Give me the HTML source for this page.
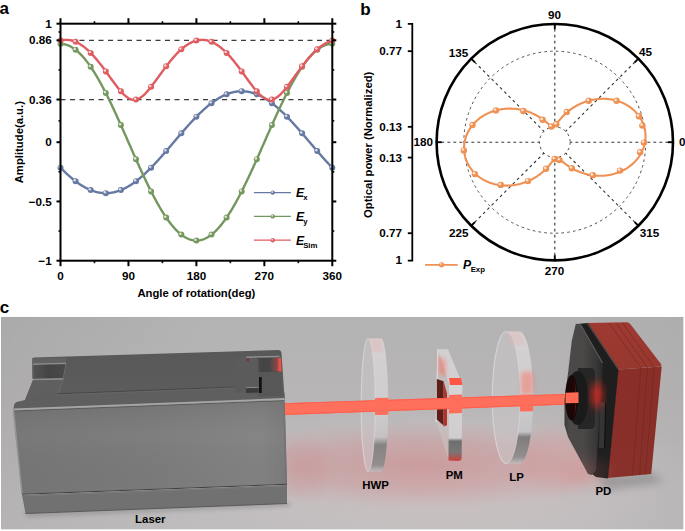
<!DOCTYPE html>
<html><head><meta charset="utf-8"><style>
html,body{margin:0;padding:0;background:#fff;}
svg{display:block;}
text{font-family:"Liberation Sans",sans-serif;}
.tk{font-size:11.7px;font-weight:bold;fill:#000;}
.ax{font-size:11.3px;font-weight:bold;fill:#000;}
.pl{font-size:17px;font-weight:bold;fill:#000;}
.lg{font-size:12.2px;font-style:italic;font-weight:bold;fill:#000;}
.sb{font-size:7.8px;font-style:normal;font-weight:bold;}
.cl{font-size:11.4px;font-weight:bold;fill:#000;}
</style></head><body>
<svg width="685" height="531" viewBox="0 0 685 531">
<defs>
<g id="mkDF5C61"><circle r="3.0" fill="#DF5C61"/><circle cx="-0.9" cy="-0.9" r="1.26" fill="#fff" opacity="0.75"/></g>
<g id="mk74975E"><circle r="3.0" fill="#74975E"/><circle cx="-0.9" cy="-0.9" r="1.26" fill="#fff" opacity="0.75"/></g>
<g id="mk6579A2"><circle r="3.0" fill="#6579A2"/><circle cx="-0.9" cy="-0.9" r="1.26" fill="#fff" opacity="0.75"/></g>
<g id="mkO"><circle r="3.2" fill="#EE9153"/><circle cx="-0.9" cy="-0.9" r="1.34" fill="#fff" opacity="0.75"/></g>
</defs>
<rect width="685" height="531" fill="#fff"/>
<text x="-0.5" y="14" class="pl">a</text>
<text x="360.2" y="14.6" class="pl">b</text>
<text x="-0.3" y="313.2" class="pl">c</text>
<g id="pa">
<line x1="60.5" y1="40.29" x2="332.3" y2="40.29" stroke="#3a3a3a" stroke-width="1.2" stroke-dasharray="5 4.5"/>
<line x1="60.5" y1="99.54" x2="332.3" y2="99.54" stroke="#3a3a3a" stroke-width="1.2" stroke-dasharray="5 4.5"/>
<path d="M60.50,167.68 L61.26,168.44 L62.01,169.20 L62.77,169.95 L63.52,170.69 L64.28,171.43 L65.03,172.15 L65.78,172.87 L66.54,173.57 L67.30,174.27 L68.05,174.95 L68.81,175.63 L69.56,176.30 L70.31,176.95 L71.07,177.60 L71.83,178.23 L72.58,178.85 L73.34,179.47 L74.09,180.07 L74.84,180.66 L75.60,181.23 L76.36,181.80 L77.11,182.35 L77.87,182.89 L78.62,183.42 L79.38,183.94 L80.13,184.44 L80.89,184.93 L81.64,185.41 L82.40,185.88 L83.15,186.33 L83.91,186.77 L84.66,187.19 L85.41,187.60 L86.17,188.00 L86.92,188.38 L87.68,188.75 L88.44,189.10 L89.19,189.44 L89.94,189.77 L90.70,190.08 L91.45,190.38 L92.21,190.66 L92.97,190.93 L93.72,191.18 L94.47,191.42 L95.23,191.64 L95.98,191.85 L96.74,192.04 L97.50,192.22 L98.25,192.38 L99.00,192.53 L99.76,192.66 L100.52,192.78 L101.27,192.88 L102.03,192.96 L102.78,193.03 L103.53,193.09 L104.29,193.12 L105.05,193.15 L105.80,193.15 L106.56,193.15 L107.31,193.12 L108.06,193.09 L108.82,193.03 L109.58,192.96 L110.33,192.88 L111.09,192.78 L111.84,192.66 L112.59,192.53 L113.35,192.38 L114.10,192.22 L114.86,192.04 L115.62,191.85 L116.37,191.64 L117.12,191.42 L117.88,191.18 L118.64,190.93 L119.39,190.66 L120.15,190.38 L120.90,190.08 L121.66,189.77 L122.41,189.44 L123.17,189.10 L123.92,188.75 L124.67,188.38 L125.43,188.00 L126.19,187.60 L126.94,187.19 L127.70,186.77 L128.45,186.33 L129.20,185.88 L129.96,185.41 L130.72,184.93 L131.47,184.44 L132.22,183.94 L132.98,183.42 L133.74,182.89 L134.49,182.35 L135.25,181.80 L136.00,181.23 L136.75,180.66 L137.51,180.07 L138.26,179.47 L139.02,178.85 L139.78,178.23 L140.53,177.60 L141.29,176.95 L142.04,176.30 L142.80,175.63 L143.55,174.95 L144.31,174.27 L145.06,173.57 L145.81,172.87 L146.57,172.15 L147.32,171.43 L148.08,170.69 L148.84,169.95 L149.59,169.20 L150.34,168.44 L151.10,167.68 L151.86,166.90 L152.61,166.12 L153.37,165.33 L154.12,164.54 L154.88,163.73 L155.63,162.93 L156.38,162.11 L157.14,161.29 L157.90,160.46 L158.65,159.63 L159.41,158.79 L160.16,157.95 L160.92,157.10 L161.67,156.25 L162.43,155.39 L163.18,154.53 L163.94,153.66 L164.69,152.79 L165.44,151.92 L166.20,151.05 L166.96,150.17 L167.71,149.29 L168.47,148.41 L169.22,147.53 L169.97,146.64 L170.73,145.75 L171.49,144.87 L172.24,143.98 L173.00,143.09 L173.75,142.20 L174.50,141.31 L175.26,140.42 L176.01,139.53 L176.77,138.65 L177.53,137.76 L178.28,136.87 L179.03,135.99 L179.79,135.11 L180.55,134.23 L181.30,133.35 L182.06,132.48 L182.81,131.61 L183.56,130.74 L184.32,129.87 L185.07,129.01 L185.83,128.15 L186.58,127.30 L187.34,126.45 L188.10,125.61 L188.85,124.77 L189.61,123.94 L190.36,123.11 L191.12,122.29 L191.87,121.47 L192.62,120.67 L193.38,119.86 L194.13,119.07 L194.89,118.28 L195.65,117.50 L196.40,116.72 L197.16,115.96 L197.91,115.20 L198.66,114.45 L199.42,113.71 L200.18,112.97 L200.93,112.25 L201.69,111.53 L202.44,110.83 L203.20,110.13 L203.95,109.45 L204.71,108.77 L205.46,108.10 L206.22,107.45 L206.97,106.80 L207.72,106.17 L208.48,105.55 L209.24,104.93 L209.99,104.33 L210.75,103.74 L211.50,103.17 L212.25,102.60 L213.01,102.05 L213.77,101.51 L214.52,100.98 L215.28,100.46 L216.03,99.96 L216.79,99.47 L217.54,98.99 L218.30,98.52 L219.05,98.07 L219.81,97.63 L220.56,97.21 L221.31,96.80 L222.07,96.40 L222.82,96.02 L223.58,95.65 L224.34,95.30 L225.09,94.96 L225.84,94.63 L226.60,94.32 L227.36,94.02 L228.11,93.74 L228.87,93.47 L229.62,93.22 L230.38,92.98 L231.13,92.76 L231.89,92.55 L232.64,92.36 L233.40,92.18 L234.15,92.02 L234.91,91.87 L235.66,91.74 L236.41,91.62 L237.17,91.52 L237.93,91.44 L238.68,91.37 L239.44,91.31 L240.19,91.28 L240.95,91.25 L241.70,91.24 L242.46,91.25 L243.21,91.28 L243.97,91.31 L244.72,91.37 L245.47,91.44 L246.23,91.52 L246.99,91.62 L247.74,91.74 L248.50,91.87 L249.25,92.02 L250.00,92.18 L250.76,92.36 L251.52,92.55 L252.27,92.76 L253.03,92.98 L253.78,93.22 L254.54,93.47 L255.29,93.74 L256.04,94.02 L256.80,94.32 L257.56,94.63 L258.31,94.96 L259.07,95.30 L259.82,95.65 L260.57,96.02 L261.33,96.40 L262.09,96.80 L262.84,97.21 L263.60,97.63 L264.35,98.07 L265.11,98.52 L265.86,98.99 L266.62,99.47 L267.37,99.96 L268.12,100.46 L268.88,100.98 L269.63,101.51 L270.39,102.05 L271.14,102.60 L271.90,103.17 L272.65,103.74 L273.41,104.33 L274.17,104.93 L274.92,105.55 L275.68,106.17 L276.43,106.80 L277.19,107.45 L277.94,108.10 L278.69,108.77 L279.45,109.45 L280.21,110.13 L280.96,110.83 L281.72,111.53 L282.47,112.25 L283.23,112.97 L283.98,113.71 L284.74,114.45 L285.49,115.20 L286.25,115.96 L287.00,116.72 L287.75,117.50 L288.51,118.28 L289.26,119.07 L290.02,119.86 L290.77,120.67 L291.53,121.47 L292.29,122.29 L293.04,123.11 L293.79,123.94 L294.55,124.77 L295.31,125.61 L296.06,126.45 L296.82,127.30 L297.57,128.15 L298.32,129.01 L299.08,129.87 L299.84,130.74 L300.59,131.61 L301.35,132.48 L302.10,133.35 L302.86,134.23 L303.61,135.11 L304.37,135.99 L305.12,136.87 L305.88,137.76 L306.63,138.65 L307.38,139.53 L308.14,140.42 L308.89,141.31 L309.65,142.20 L310.40,143.09 L311.16,143.98 L311.92,144.87 L312.67,145.75 L313.43,146.64 L314.18,147.53 L314.94,148.41 L315.69,149.29 L316.44,150.17 L317.20,151.05 L317.95,151.92 L318.71,152.79 L319.47,153.66 L320.22,154.53 L320.98,155.39 L321.73,156.25 L322.49,157.10 L323.24,157.95 L324.00,158.79 L324.75,159.63 L325.50,160.46 L326.26,161.29 L327.02,162.11 L327.77,162.93 L328.52,163.73 L329.28,164.54 L330.04,165.33 L330.79,166.12 L331.55,166.90 L332.30,167.68" fill="none" stroke="#6579A2" stroke-width="2.4" stroke-linejoin="round"/>
<use href="#mk6579A2" x="60.50" y="167.68"/>
<use href="#mk6579A2" x="75.60" y="181.23"/>
<use href="#mk6579A2" x="90.70" y="190.08"/>
<use href="#mk6579A2" x="105.80" y="193.15"/>
<use href="#mk6579A2" x="120.90" y="190.08"/>
<use href="#mk6579A2" x="136.00" y="181.23"/>
<use href="#mk6579A2" x="151.10" y="167.68"/>
<use href="#mk6579A2" x="166.20" y="151.05"/>
<use href="#mk6579A2" x="181.30" y="133.35"/>
<use href="#mk6579A2" x="196.40" y="116.72"/>
<use href="#mk6579A2" x="211.50" y="103.17"/>
<use href="#mk6579A2" x="226.60" y="94.32"/>
<use href="#mk6579A2" x="241.70" y="91.24"/>
<use href="#mk6579A2" x="256.80" y="94.32"/>
<use href="#mk6579A2" x="271.90" y="103.17"/>
<use href="#mk6579A2" x="287.00" y="116.72"/>
<use href="#mk6579A2" x="302.10" y="133.35"/>
<use href="#mk6579A2" x="317.20" y="151.05"/>
<use href="#mk6579A2" x="332.30" y="167.68"/>
<path d="M60.50,43.84 L61.26,43.86 L62.01,43.90 L62.77,43.98 L63.52,44.08 L64.28,44.22 L65.03,44.38 L65.78,44.58 L66.54,44.80 L67.30,45.06 L68.05,45.34 L68.81,45.65 L69.56,45.99 L70.31,46.37 L71.07,46.77 L71.83,47.20 L72.58,47.66 L73.34,48.14 L74.09,48.66 L74.84,49.20 L75.60,49.78 L76.36,50.38 L77.11,51.01 L77.87,51.66 L78.62,52.35 L79.38,53.06 L80.13,53.80 L80.89,54.57 L81.64,55.36 L82.40,56.18 L83.15,57.02 L83.91,57.89 L84.66,58.79 L85.41,59.71 L86.17,60.66 L86.92,61.63 L87.68,62.63 L88.44,63.65 L89.19,64.70 L89.94,65.76 L90.70,66.86 L91.45,67.97 L92.21,69.11 L92.97,70.27 L93.72,71.45 L94.47,72.65 L95.23,73.88 L95.98,75.12 L96.74,76.39 L97.50,77.67 L98.25,78.98 L99.00,80.30 L99.76,81.65 L100.52,83.01 L101.27,84.39 L102.03,85.79 L102.78,87.20 L103.53,88.63 L104.29,90.08 L105.05,91.54 L105.80,93.02 L106.56,94.52 L107.31,96.03 L108.06,97.55 L108.82,99.08 L109.58,100.63 L110.33,102.20 L111.09,103.77 L111.84,105.36 L112.59,106.95 L113.35,108.56 L114.10,110.18 L114.86,111.81 L115.62,113.44 L116.37,115.09 L117.12,116.74 L117.88,118.41 L118.64,120.07 L119.39,121.75 L120.15,123.43 L120.90,125.12 L121.66,126.81 L122.41,128.51 L123.17,130.21 L123.92,131.92 L124.67,133.63 L125.43,135.34 L126.19,137.05 L126.94,138.77 L127.70,140.48 L128.45,142.20 L129.20,143.92 L129.96,145.63 L130.72,147.35 L131.47,149.06 L132.22,150.77 L132.98,152.48 L133.74,154.19 L134.49,155.89 L135.25,157.59 L136.00,159.28 L136.75,160.97 L137.51,162.65 L138.26,164.33 L139.02,165.99 L139.78,167.66 L140.53,169.31 L141.29,170.96 L142.04,172.59 L142.80,174.22 L143.55,175.84 L144.31,177.45 L145.06,179.04 L145.81,180.63 L146.57,182.20 L147.32,183.77 L148.08,185.32 L148.84,186.85 L149.59,188.37 L150.34,189.88 L151.10,191.38 L151.86,192.86 L152.61,194.32 L153.37,195.77 L154.12,197.20 L154.88,198.61 L155.63,200.01 L156.38,201.39 L157.14,202.75 L157.90,204.10 L158.65,205.42 L159.41,206.73 L160.16,208.01 L160.92,209.28 L161.67,210.52 L162.43,211.75 L163.18,212.95 L163.94,214.13 L164.69,215.29 L165.44,216.43 L166.20,217.54 L166.96,218.64 L167.71,219.70 L168.47,220.75 L169.22,221.77 L169.97,222.77 L170.73,223.74 L171.49,224.69 L172.24,225.61 L173.00,226.51 L173.75,227.38 L174.50,228.22 L175.26,229.04 L176.01,229.83 L176.77,230.60 L177.53,231.34 L178.28,232.05 L179.03,232.74 L179.79,233.39 L180.55,234.02 L181.30,234.62 L182.06,235.20 L182.81,235.74 L183.56,236.26 L184.32,236.74 L185.07,237.20 L185.83,237.63 L186.58,238.03 L187.34,238.41 L188.10,238.75 L188.85,239.06 L189.61,239.34 L190.36,239.60 L191.12,239.82 L191.87,240.02 L192.62,240.18 L193.38,240.32 L194.13,240.42 L194.89,240.50 L195.65,240.54 L196.40,240.55 L197.16,240.54 L197.91,240.50 L198.66,240.42 L199.42,240.32 L200.18,240.18 L200.93,240.02 L201.69,239.82 L202.44,239.60 L203.20,239.34 L203.95,239.06 L204.71,238.75 L205.46,238.41 L206.22,238.03 L206.97,237.63 L207.72,237.20 L208.48,236.74 L209.24,236.26 L209.99,235.74 L210.75,235.20 L211.50,234.62 L212.25,234.02 L213.01,233.39 L213.77,232.74 L214.52,232.05 L215.28,231.34 L216.03,230.60 L216.79,229.83 L217.54,229.04 L218.30,228.22 L219.05,227.38 L219.81,226.51 L220.56,225.61 L221.31,224.69 L222.07,223.74 L222.82,222.77 L223.58,221.77 L224.34,220.75 L225.09,219.70 L225.84,218.64 L226.60,217.54 L227.36,216.43 L228.11,215.29 L228.87,214.13 L229.62,212.95 L230.38,211.75 L231.13,210.52 L231.89,209.28 L232.64,208.01 L233.40,206.73 L234.15,205.42 L234.91,204.10 L235.66,202.75 L236.41,201.39 L237.17,200.01 L237.93,198.61 L238.68,197.20 L239.44,195.77 L240.19,194.32 L240.95,192.86 L241.70,191.38 L242.46,189.88 L243.21,188.37 L243.97,186.85 L244.72,185.32 L245.47,183.77 L246.23,182.20 L246.99,180.63 L247.74,179.04 L248.50,177.45 L249.25,175.84 L250.00,174.22 L250.76,172.59 L251.52,170.96 L252.27,169.31 L253.03,167.66 L253.78,165.99 L254.54,164.33 L255.29,162.65 L256.04,160.97 L256.80,159.28 L257.56,157.59 L258.31,155.89 L259.07,154.19 L259.82,152.48 L260.57,150.77 L261.33,149.06 L262.09,147.35 L262.84,145.63 L263.60,143.92 L264.35,142.20 L265.11,140.48 L265.86,138.77 L266.62,137.05 L267.37,135.34 L268.12,133.63 L268.88,131.92 L269.63,130.21 L270.39,128.51 L271.14,126.81 L271.90,125.12 L272.65,123.43 L273.41,121.75 L274.17,120.07 L274.92,118.41 L275.68,116.74 L276.43,115.09 L277.19,113.44 L277.94,111.81 L278.69,110.18 L279.45,108.56 L280.21,106.95 L280.96,105.36 L281.72,103.77 L282.47,102.20 L283.23,100.63 L283.98,99.08 L284.74,97.55 L285.49,96.03 L286.25,94.52 L287.00,93.02 L287.75,91.54 L288.51,90.08 L289.26,88.63 L290.02,87.20 L290.77,85.79 L291.53,84.39 L292.29,83.01 L293.04,81.65 L293.79,80.30 L294.55,78.98 L295.31,77.67 L296.06,76.39 L296.82,75.12 L297.57,73.88 L298.32,72.65 L299.08,71.45 L299.84,70.27 L300.59,69.11 L301.35,67.97 L302.10,66.86 L302.86,65.76 L303.61,64.70 L304.37,63.65 L305.12,62.63 L305.88,61.63 L306.63,60.66 L307.38,59.71 L308.14,58.79 L308.89,57.89 L309.65,57.02 L310.40,56.18 L311.16,55.36 L311.92,54.57 L312.67,53.80 L313.43,53.06 L314.18,52.35 L314.94,51.66 L315.69,51.01 L316.44,50.38 L317.20,49.78 L317.95,49.20 L318.71,48.66 L319.47,48.14 L320.22,47.66 L320.98,47.20 L321.73,46.77 L322.49,46.37 L323.24,45.99 L324.00,45.65 L324.75,45.34 L325.50,45.06 L326.26,44.80 L327.02,44.58 L327.77,44.38 L328.52,44.22 L329.28,44.08 L330.04,43.98 L330.79,43.90 L331.55,43.86 L332.30,43.84" fill="none" stroke="#74975E" stroke-width="2.4" stroke-linejoin="round"/>
<use href="#mk74975E" x="60.50" y="43.84"/>
<use href="#mk74975E" x="75.60" y="49.78"/>
<use href="#mk74975E" x="90.70" y="66.86"/>
<use href="#mk74975E" x="105.80" y="93.02"/>
<use href="#mk74975E" x="120.90" y="125.12"/>
<use href="#mk74975E" x="136.00" y="159.28"/>
<use href="#mk74975E" x="151.10" y="191.38"/>
<use href="#mk74975E" x="166.20" y="217.54"/>
<use href="#mk74975E" x="181.30" y="234.62"/>
<use href="#mk74975E" x="196.40" y="240.55"/>
<use href="#mk74975E" x="211.50" y="234.62"/>
<use href="#mk74975E" x="226.60" y="217.54"/>
<use href="#mk74975E" x="241.70" y="191.38"/>
<use href="#mk74975E" x="256.80" y="159.28"/>
<use href="#mk74975E" x="271.90" y="125.12"/>
<use href="#mk74975E" x="287.00" y="93.02"/>
<use href="#mk74975E" x="302.10" y="66.86"/>
<use href="#mk74975E" x="317.20" y="49.78"/>
<use href="#mk74975E" x="332.30" y="43.84"/>
<path d="M60.50,40.60 L61.26,40.42 L62.01,40.26 L62.77,40.13 L63.52,40.03 L64.28,39.95 L65.03,39.90 L65.78,39.88 L66.54,39.87 L67.30,39.90 L68.05,39.95 L68.81,40.03 L69.56,40.13 L70.31,40.26 L71.07,40.41 L71.83,40.59 L72.58,40.80 L73.34,41.03 L74.09,41.28 L74.84,41.57 L75.60,41.87 L76.36,42.20 L77.11,42.56 L77.87,42.94 L78.62,43.34 L79.38,43.77 L80.13,44.22 L80.89,44.70 L81.64,45.20 L82.40,45.72 L83.15,46.27 L83.91,46.84 L84.66,47.43 L85.41,48.04 L86.17,48.68 L86.92,49.34 L87.68,50.01 L88.44,50.71 L89.19,51.43 L89.94,52.17 L90.70,52.93 L91.45,53.71 L92.21,54.50 L92.97,55.32 L93.72,56.15 L94.47,57.00 L95.23,57.86 L95.98,58.75 L96.74,59.64 L97.50,60.56 L98.25,61.48 L99.00,62.42 L99.76,63.38 L100.52,64.34 L101.27,65.32 L102.03,66.31 L102.78,67.31 L103.53,68.32 L104.29,69.33 L105.05,70.35 L105.80,71.38 L106.56,72.42 L107.31,73.46 L108.06,74.50 L108.82,75.55 L109.58,76.59 L110.33,77.64 L111.09,78.68 L111.84,79.72 L112.59,80.76 L113.35,81.79 L114.10,82.81 L114.86,83.82 L115.62,84.82 L116.37,85.81 L117.12,86.79 L117.88,87.75 L118.64,88.68 L119.39,89.60 L120.15,90.49 L120.90,91.36 L121.66,92.20 L122.41,93.01 L123.17,93.79 L123.92,94.53 L124.67,95.23 L125.43,95.89 L126.19,96.51 L126.94,97.08 L127.70,97.60 L128.45,98.07 L129.20,98.49 L129.96,98.85 L130.72,99.16 L131.47,99.40 L132.22,99.59 L132.98,99.71 L133.74,99.78 L134.49,99.78 L135.25,99.72 L136.00,99.59 L136.75,99.41 L137.51,99.16 L138.26,98.86 L139.02,98.50 L139.78,98.08 L140.53,97.61 L141.29,97.09 L142.04,96.52 L142.80,95.91 L143.55,95.25 L144.31,94.55 L145.06,93.81 L145.81,93.03 L146.57,92.23 L147.32,91.39 L148.08,90.52 L148.84,89.63 L149.59,88.71 L150.34,87.77 L151.10,86.81 L151.86,85.84 L152.61,84.85 L153.37,83.85 L154.12,82.84 L154.88,81.82 L155.63,80.79 L156.38,79.75 L157.14,78.71 L157.90,77.67 L158.65,76.62 L159.41,75.57 L160.16,74.53 L160.92,73.49 L161.67,72.45 L162.43,71.41 L163.18,70.38 L163.94,69.36 L164.69,68.34 L165.44,67.34 L166.20,66.34 L166.96,65.35 L167.71,64.37 L168.47,63.41 L169.22,62.45 L169.97,61.51 L170.73,60.58 L171.49,59.67 L172.24,58.77 L173.00,57.89 L173.75,57.02 L174.50,56.17 L175.26,55.34 L176.01,54.52 L176.77,53.73 L177.53,52.95 L178.28,52.19 L179.03,51.45 L179.79,50.73 L180.55,50.03 L181.30,49.35 L182.06,48.70 L182.81,48.06 L183.56,47.45 L184.32,46.85 L185.07,46.29 L185.83,45.74 L186.58,45.21 L187.34,44.71 L188.10,44.24 L188.85,43.78 L189.61,43.35 L190.36,42.95 L191.12,42.57 L191.87,42.21 L192.62,41.88 L193.38,41.57 L194.13,41.29 L194.89,41.04 L195.65,40.80 L196.40,40.60 L197.16,40.42 L197.91,40.26 L198.66,40.13 L199.42,40.03 L200.18,39.95 L200.93,39.90 L201.69,39.88 L202.44,39.87 L203.20,39.90 L203.95,39.95 L204.71,40.03 L205.46,40.13 L206.22,40.26 L206.97,40.41 L207.72,40.59 L208.48,40.80 L209.24,41.03 L209.99,41.28 L210.75,41.57 L211.50,41.87 L212.25,42.20 L213.01,42.56 L213.77,42.94 L214.52,43.34 L215.28,43.77 L216.03,44.22 L216.79,44.70 L217.54,45.20 L218.30,45.72 L219.05,46.27 L219.81,46.84 L220.56,47.43 L221.31,48.04 L222.07,48.68 L222.82,49.34 L223.58,50.01 L224.34,50.71 L225.09,51.43 L225.84,52.17 L226.60,52.93 L227.36,53.71 L228.11,54.50 L228.87,55.32 L229.62,56.15 L230.38,57.00 L231.13,57.86 L231.89,58.75 L232.64,59.64 L233.40,60.56 L234.15,61.48 L234.91,62.42 L235.66,63.38 L236.41,64.34 L237.17,65.32 L237.93,66.31 L238.68,67.31 L239.44,68.32 L240.19,69.33 L240.95,70.35 L241.70,71.38 L242.46,72.42 L243.21,73.46 L243.97,74.50 L244.72,75.55 L245.47,76.59 L246.23,77.64 L246.99,78.68 L247.74,79.72 L248.50,80.76 L249.25,81.79 L250.00,82.81 L250.76,83.82 L251.52,84.82 L252.27,85.81 L253.03,86.79 L253.78,87.75 L254.54,88.68 L255.29,89.60 L256.04,90.49 L256.80,91.36 L257.56,92.20 L258.31,93.01 L259.07,93.79 L259.82,94.53 L260.57,95.23 L261.33,95.89 L262.09,96.51 L262.84,97.08 L263.60,97.60 L264.35,98.07 L265.11,98.49 L265.86,98.85 L266.62,99.16 L267.37,99.40 L268.12,99.59 L268.88,99.71 L269.63,99.78 L270.39,99.78 L271.14,99.72 L271.90,99.59 L272.65,99.41 L273.41,99.16 L274.17,98.86 L274.92,98.50 L275.68,98.08 L276.43,97.61 L277.19,97.09 L277.94,96.52 L278.69,95.91 L279.45,95.25 L280.21,94.55 L280.96,93.81 L281.72,93.03 L282.47,92.23 L283.23,91.39 L283.98,90.52 L284.74,89.63 L285.49,88.71 L286.25,87.77 L287.00,86.81 L287.75,85.84 L288.51,84.85 L289.26,83.85 L290.02,82.84 L290.77,81.82 L291.53,80.79 L292.29,79.75 L293.04,78.71 L293.79,77.67 L294.55,76.62 L295.31,75.57 L296.06,74.53 L296.82,73.49 L297.57,72.45 L298.32,71.41 L299.08,70.38 L299.84,69.36 L300.59,68.34 L301.35,67.34 L302.10,66.34 L302.86,65.35 L303.61,64.37 L304.37,63.41 L305.12,62.45 L305.88,61.51 L306.63,60.58 L307.38,59.67 L308.14,58.77 L308.89,57.89 L309.65,57.02 L310.40,56.17 L311.16,55.34 L311.92,54.52 L312.67,53.73 L313.43,52.95 L314.18,52.19 L314.94,51.45 L315.69,50.73 L316.44,50.03 L317.20,49.35 L317.95,48.70 L318.71,48.06 L319.47,47.45 L320.22,46.85 L320.98,46.29 L321.73,45.74 L322.49,45.21 L323.24,44.71 L324.00,44.24 L324.75,43.78 L325.50,43.35 L326.26,42.95 L327.02,42.57 L327.77,42.21 L328.52,41.88 L329.28,41.57 L330.04,41.29 L330.79,41.04 L331.55,40.80 L332.30,40.60" fill="none" stroke="#DF5C61" stroke-width="2.4" stroke-linejoin="round"/>
<use href="#mkDF5C61" x="60.50" y="40.60"/>
<use href="#mkDF5C61" x="75.60" y="41.87"/>
<use href="#mkDF5C61" x="90.70" y="52.93"/>
<use href="#mkDF5C61" x="105.80" y="71.38"/>
<use href="#mkDF5C61" x="120.90" y="91.36"/>
<use href="#mkDF5C61" x="136.00" y="99.59"/>
<use href="#mkDF5C61" x="151.10" y="86.81"/>
<use href="#mkDF5C61" x="166.20" y="66.34"/>
<use href="#mkDF5C61" x="181.30" y="49.35"/>
<use href="#mkDF5C61" x="196.40" y="40.60"/>
<use href="#mkDF5C61" x="211.50" y="41.87"/>
<use href="#mkDF5C61" x="226.60" y="52.93"/>
<use href="#mkDF5C61" x="241.70" y="71.38"/>
<use href="#mkDF5C61" x="256.80" y="91.36"/>
<use href="#mkDF5C61" x="271.90" y="99.59"/>
<use href="#mkDF5C61" x="287.00" y="86.81"/>
<use href="#mkDF5C61" x="302.10" y="66.34"/>
<use href="#mkDF5C61" x="317.20" y="49.35"/>
<use href="#mkDF5C61" x="332.30" y="40.60"/>
<rect x="60.5" y="23.70" width="271.80" height="237.00" fill="none" stroke="#000" stroke-width="2"/>
<line x1="56.5" y1="23.70" x2="60.5" y2="23.70" stroke="#000" stroke-width="2"/>
<line x1="332.3" y1="23.70" x2="336.3" y2="23.70" stroke="#000" stroke-width="2"/>
<line x1="56.5" y1="40.29" x2="60.5" y2="40.29" stroke="#000" stroke-width="2"/>
<line x1="332.3" y1="40.29" x2="336.3" y2="40.29" stroke="#000" stroke-width="2"/>
<line x1="56.5" y1="99.54" x2="60.5" y2="99.54" stroke="#000" stroke-width="2"/>
<line x1="332.3" y1="99.54" x2="336.3" y2="99.54" stroke="#000" stroke-width="2"/>
<line x1="56.5" y1="142.20" x2="60.5" y2="142.20" stroke="#000" stroke-width="2"/>
<line x1="332.3" y1="142.20" x2="336.3" y2="142.20" stroke="#000" stroke-width="2"/>
<line x1="56.5" y1="201.45" x2="60.5" y2="201.45" stroke="#000" stroke-width="2"/>
<line x1="332.3" y1="201.45" x2="336.3" y2="201.45" stroke="#000" stroke-width="2"/>
<line x1="56.5" y1="260.70" x2="60.5" y2="260.70" stroke="#000" stroke-width="2"/>
<line x1="332.3" y1="260.70" x2="336.3" y2="260.70" stroke="#000" stroke-width="2"/>
<line x1="58.5" y1="31.99" x2="60.5" y2="31.99" stroke="#000" stroke-width="1.6"/>
<line x1="332.3" y1="31.99" x2="334.3" y2="31.99" stroke="#000" stroke-width="1.6"/>
<line x1="58.5" y1="69.91" x2="60.5" y2="69.91" stroke="#000" stroke-width="1.6"/>
<line x1="332.3" y1="69.91" x2="334.3" y2="69.91" stroke="#000" stroke-width="1.6"/>
<line x1="58.5" y1="120.87" x2="60.5" y2="120.87" stroke="#000" stroke-width="1.6"/>
<line x1="332.3" y1="120.87" x2="334.3" y2="120.87" stroke="#000" stroke-width="1.6"/>
<line x1="58.5" y1="171.82" x2="60.5" y2="171.82" stroke="#000" stroke-width="1.6"/>
<line x1="332.3" y1="171.82" x2="334.3" y2="171.82" stroke="#000" stroke-width="1.6"/>
<line x1="58.5" y1="231.07" x2="60.5" y2="231.07" stroke="#000" stroke-width="1.6"/>
<line x1="332.3" y1="231.07" x2="334.3" y2="231.07" stroke="#000" stroke-width="1.6"/>
<line x1="60.50" y1="260.70" x2="60.50" y2="266.20" stroke="#000" stroke-width="2"/>
<line x1="60.50" y1="18.20" x2="60.50" y2="23.70" stroke="#000" stroke-width="2"/>
<line x1="128.45" y1="260.70" x2="128.45" y2="266.20" stroke="#000" stroke-width="2"/>
<line x1="128.45" y1="18.20" x2="128.45" y2="23.70" stroke="#000" stroke-width="2"/>
<line x1="196.40" y1="260.70" x2="196.40" y2="266.20" stroke="#000" stroke-width="2"/>
<line x1="196.40" y1="18.20" x2="196.40" y2="23.70" stroke="#000" stroke-width="2"/>
<line x1="264.35" y1="260.70" x2="264.35" y2="266.20" stroke="#000" stroke-width="2"/>
<line x1="264.35" y1="18.20" x2="264.35" y2="23.70" stroke="#000" stroke-width="2"/>
<line x1="332.30" y1="260.70" x2="332.30" y2="266.20" stroke="#000" stroke-width="2"/>
<line x1="332.30" y1="18.20" x2="332.30" y2="23.70" stroke="#000" stroke-width="2"/>
<line x1="94.47" y1="260.70" x2="94.47" y2="263.20" stroke="#000" stroke-width="1.6"/>
<line x1="94.47" y1="21.20" x2="94.47" y2="23.70" stroke="#000" stroke-width="1.6"/>
<line x1="162.43" y1="260.70" x2="162.43" y2="263.20" stroke="#000" stroke-width="1.6"/>
<line x1="162.43" y1="21.20" x2="162.43" y2="23.70" stroke="#000" stroke-width="1.6"/>
<line x1="230.38" y1="260.70" x2="230.38" y2="263.20" stroke="#000" stroke-width="1.6"/>
<line x1="230.38" y1="21.20" x2="230.38" y2="23.70" stroke="#000" stroke-width="1.6"/>
<line x1="298.32" y1="260.70" x2="298.32" y2="263.20" stroke="#000" stroke-width="1.6"/>
<line x1="298.32" y1="21.20" x2="298.32" y2="23.70" stroke="#000" stroke-width="1.6"/>
<text x="51.8" y="27.90" text-anchor="end" class="tk">1</text>
<text x="51.8" y="44.49" text-anchor="end" class="tk">0.86</text>
<text x="51.8" y="103.74" text-anchor="end" class="tk">0.36</text>
<text x="51.8" y="146.40" text-anchor="end" class="tk">0</text>
<text x="51.8" y="205.65" text-anchor="end" class="tk">−0.5</text>
<text x="51.8" y="264.90" text-anchor="end" class="tk">−1</text>
<text x="60.50" y="279.6" text-anchor="middle" class="tk">0</text>
<text x="128.45" y="279.6" text-anchor="middle" class="tk">90</text>
<text x="196.40" y="279.6" text-anchor="middle" class="tk">180</text>
<text x="264.35" y="279.6" text-anchor="middle" class="tk">270</text>
<text x="332.30" y="279.6" text-anchor="middle" class="tk">360</text>
<text x="196.4" y="296.5" text-anchor="middle" class="ax">Angle of rotation(deg)</text>
<text transform="translate(22.6,142.2) rotate(-90)" text-anchor="middle" class="ax">Amplitude(a.u.)</text>
<line x1="253.9" y1="192.60" x2="290.9" y2="192.60" stroke="#6579A2" stroke-width="1.3"/>
<circle cx="272.7" cy="192.60" r="2.2" fill="#6579A2"/><circle cx="272.2" cy="192.00" r="0.95" fill="#fff" opacity="0.7"/>
<text x="296" y="197.30" class="lg"><tspan>E</tspan><tspan class="sb" dy="2.6" dx="-1">x</tspan></text>
<line x1="253.9" y1="216.40" x2="290.9" y2="216.40" stroke="#74975E" stroke-width="1.3"/>
<circle cx="272.7" cy="216.40" r="2.2" fill="#74975E"/><circle cx="272.2" cy="215.80" r="0.95" fill="#fff" opacity="0.7"/>
<text x="296" y="221.10" class="lg"><tspan>E</tspan><tspan class="sb" dy="2.6" dx="-1">y</tspan></text>
<line x1="253.9" y1="240.20" x2="290.9" y2="240.20" stroke="#DF5C61" stroke-width="1.3"/>
<circle cx="272.7" cy="240.20" r="2.2" fill="#DF5C61"/><circle cx="272.2" cy="239.60" r="0.95" fill="#fff" opacity="0.7"/>
<text x="296" y="244.90" class="lg"><tspan>E</tspan><tspan class="sb" dy="2.6" dx="-1">Sim</tspan></text>
</g>
<g id="pb">
<circle cx="554.8" cy="142.2" r="91.01" fill="none" stroke="#444" stroke-width="0.95" stroke-dasharray="2.6 3.2"/>
<circle cx="554.8" cy="142.2" r="15.37" fill="none" stroke="#444" stroke-width="0.95" stroke-dasharray="2.6 3.2"/>
<line x1="673.00" y1="142.20" x2="570.17" y2="142.20" stroke="#333" stroke-width="1.1" stroke-dasharray="2.8 3.2" stroke-dashoffset="1.2"/>
<line x1="667.80" y1="142.20" x2="673.00" y2="142.20" stroke="#000" stroke-width="1.9"/>
<line x1="638.38" y1="58.62" x2="565.67" y2="131.33" stroke="#333" stroke-width="1.1" stroke-dasharray="2.8 3.2" stroke-dashoffset="1.2"/>
<line x1="634.70" y1="62.30" x2="638.38" y2="58.62" stroke="#000" stroke-width="1.9"/>
<line x1="554.80" y1="24.00" x2="554.80" y2="126.83" stroke="#333" stroke-width="1.1" stroke-dasharray="2.8 3.2" stroke-dashoffset="1.2"/>
<line x1="554.80" y1="29.20" x2="554.80" y2="24.00" stroke="#000" stroke-width="1.9"/>
<line x1="471.22" y1="58.62" x2="543.93" y2="131.33" stroke="#333" stroke-width="1.1" stroke-dasharray="2.8 3.2" stroke-dashoffset="1.2"/>
<line x1="474.90" y1="62.30" x2="471.22" y2="58.62" stroke="#000" stroke-width="1.9"/>
<line x1="436.60" y1="142.20" x2="539.43" y2="142.20" stroke="#333" stroke-width="1.1" stroke-dasharray="2.8 3.2" stroke-dashoffset="1.2"/>
<line x1="441.80" y1="142.20" x2="436.60" y2="142.20" stroke="#000" stroke-width="1.9"/>
<line x1="471.22" y1="225.78" x2="543.93" y2="153.07" stroke="#333" stroke-width="1.1" stroke-dasharray="2.8 3.2" stroke-dashoffset="1.2"/>
<line x1="474.90" y1="222.10" x2="471.22" y2="225.78" stroke="#000" stroke-width="1.9"/>
<line x1="554.80" y1="260.40" x2="554.80" y2="157.57" stroke="#333" stroke-width="1.1" stroke-dasharray="2.8 3.2" stroke-dashoffset="1.2"/>
<line x1="554.80" y1="255.20" x2="554.80" y2="260.40" stroke="#000" stroke-width="1.9"/>
<line x1="638.38" y1="225.78" x2="565.67" y2="153.07" stroke="#333" stroke-width="1.1" stroke-dasharray="2.8 3.2" stroke-dashoffset="1.2"/>
<line x1="634.70" y1="222.10" x2="638.38" y2="225.78" stroke="#000" stroke-width="1.9"/>
<circle cx="554.8" cy="142.2" r="118.2" fill="none" stroke="#000" stroke-width="2.6"/>
<path d="M644.99,142.20 L645.12,141.41 L645.23,140.62 L645.32,139.83 L645.39,139.04 L645.45,138.24 L645.48,137.45 L645.50,136.65 L645.50,135.86 L645.48,135.06 L645.44,134.27 L645.39,133.48 L645.32,132.69 L645.22,131.90 L645.11,131.11 L644.98,130.33 L644.84,129.55 L644.67,128.77 L644.49,127.99 L644.29,127.22 L644.07,126.46 L643.83,125.70 L643.58,124.94 L643.31,124.19 L643.02,123.45 L642.71,122.71 L642.39,121.98 L642.05,121.25 L641.69,120.54 L641.31,119.83 L640.92,119.12 L640.52,118.43 L640.10,117.74 L639.66,117.06 L639.20,116.40 L638.73,115.74 L638.25,115.09 L637.75,114.45 L637.24,113.82 L636.71,113.20 L636.16,112.59 L635.61,111.99 L635.04,111.40 L634.45,110.82 L633.86,110.26 L633.25,109.71 L632.63,109.16 L631.99,108.64 L631.35,108.12 L630.69,107.62 L630.02,107.12 L629.34,106.65 L628.65,106.18 L627.95,105.73 L627.24,105.29 L626.52,104.87 L625.79,104.46 L625.05,104.06 L624.30,103.67 L623.55,103.31 L622.78,102.95 L622.01,102.61 L621.23,102.28 L620.45,101.97 L619.66,101.67 L618.86,101.39 L618.05,101.12 L617.25,100.87 L616.43,100.63 L615.61,100.40 L614.79,100.19 L613.96,100.00 L613.13,99.82 L612.30,99.65 L611.46,99.50 L610.62,99.37 L609.78,99.24 L608.94,99.14 L608.09,99.04 L607.25,98.97 L606.40,98.90 L605.55,98.85 L604.71,98.82 L603.86,98.80 L603.01,98.79 L602.17,98.79 L601.33,98.81 L600.48,98.85 L599.64,98.89 L598.81,98.95 L597.97,99.03 L597.14,99.11 L596.31,99.21 L595.49,99.33 L594.67,99.45 L593.85,99.59 L593.04,99.73 L592.23,99.89 L591.43,100.07 L590.63,100.25 L589.84,100.44 L589.05,100.65 L588.27,100.86 L587.50,101.09 L586.73,101.33 L585.97,101.57 L585.22,101.83 L584.48,102.09 L583.74,102.37 L583.01,102.65 L582.29,102.94 L581.58,103.24 L580.87,103.55 L580.17,103.86 L579.49,104.19 L578.81,104.52 L578.14,104.85 L577.48,105.20 L576.83,105.54 L576.18,105.90 L575.55,106.26 L574.93,106.62 L574.32,106.99 L573.71,107.37 L573.12,107.75 L572.54,108.13 L571.96,108.51 L571.40,108.90 L570.85,109.30 L570.31,109.69 L569.77,110.09 L569.25,110.49 L568.74,110.89 L568.24,111.29 L567.75,111.69 L567.27,112.09 L566.80,112.49 L566.34,112.90 L565.89,113.30 L565.46,113.70 L565.03,114.10 L564.61,114.50 L564.20,114.90 L563.80,115.29 L563.42,115.68 L563.04,116.07 L562.67,116.46 L562.31,116.84 L561.96,117.22 L561.62,117.60 L561.29,117.97 L560.97,118.34 L560.66,118.70 L560.35,119.06 L560.06,119.42 L559.77,119.76 L559.50,120.10 L559.23,120.44 L558.97,120.77 L558.71,121.09 L558.47,121.41 L558.23,121.72 L558.00,122.02 L557.77,122.31 L557.55,122.60 L557.34,122.88 L557.14,123.15 L556.94,123.41 L556.75,123.67 L556.56,123.91 L556.38,124.15 L556.20,124.38 L556.03,124.60 L555.86,124.81 L555.70,125.01 L555.54,125.20 L555.39,125.38 L555.24,125.55 L555.09,125.71 L554.94,125.87 L554.80,126.01 L554.66,126.14 L554.52,126.26 L554.39,126.37 L554.25,126.48 L554.12,126.57 L553.98,126.65 L553.85,126.72 L553.72,126.78 L553.59,126.83 L553.46,126.87 L553.33,126.90 L553.19,126.92 L553.06,126.93 L552.92,126.93 L552.79,126.91 L552.65,126.89 L552.51,126.86 L552.36,126.82 L552.22,126.77 L552.07,126.70 L551.91,126.63 L551.76,126.55 L551.60,126.46 L551.43,126.36 L551.26,126.25 L551.09,126.13 L550.91,126.01 L550.73,125.87 L550.54,125.72 L550.34,125.57 L550.14,125.41 L549.94,125.24 L549.72,125.06 L549.50,124.87 L549.28,124.68 L549.04,124.48 L548.80,124.27 L548.55,124.05 L548.29,123.83 L548.03,123.60 L547.76,123.37 L547.48,123.12 L547.19,122.88 L546.89,122.62 L546.58,122.37 L546.27,122.10 L545.95,121.84 L545.61,121.56 L545.27,121.29 L544.92,121.01 L544.56,120.72 L544.18,120.44 L543.80,120.15 L543.41,119.85 L543.01,119.56 L542.60,119.26 L542.18,118.96 L541.75,118.66 L541.31,118.36 L540.86,118.05 L540.40,117.75 L539.93,117.45 L539.45,117.14 L538.95,116.84 L538.45,116.54 L537.94,116.24 L537.42,115.94 L536.88,115.64 L536.34,115.34 L535.79,115.05 L535.22,114.76 L534.65,114.47 L534.07,114.18 L533.48,113.90 L532.87,113.62 L532.26,113.35 L531.64,113.08 L531.01,112.82 L530.37,112.56 L529.72,112.31 L529.06,112.06 L528.39,111.82 L527.71,111.59 L527.03,111.36 L526.34,111.14 L525.63,110.92 L524.93,110.72 L524.21,110.52 L523.48,110.33 L522.75,110.15 L522.01,109.98 L521.26,109.81 L520.51,109.66 L519.75,109.51 L518.98,109.38 L518.21,109.25 L517.43,109.14 L516.65,109.04 L515.86,108.94 L515.07,108.86 L514.27,108.79 L513.46,108.73 L512.66,108.68 L511.85,108.64 L511.03,108.61 L510.21,108.60 L509.39,108.60 L508.57,108.61 L507.74,108.64 L506.92,108.67 L506.09,108.72 L505.26,108.78 L504.43,108.86 L503.60,108.95 L502.76,109.05 L501.93,109.16 L501.10,109.29 L500.27,109.44 L499.44,109.59 L498.61,109.76 L497.79,109.94 L496.96,110.14 L496.14,110.35 L495.33,110.58 L494.51,110.82 L493.70,111.07 L492.89,111.33 L492.09,111.61 L491.29,111.91 L490.50,112.22 L489.71,112.54 L488.93,112.87 L488.16,113.22 L487.39,113.59 L486.63,113.96 L485.87,114.35 L485.13,114.75 L484.39,115.17 L483.66,115.60 L482.94,116.04 L482.22,116.50 L481.52,116.97 L480.83,117.45 L480.14,117.94 L479.47,118.45 L478.81,118.97 L478.16,119.50 L477.52,120.04 L476.89,120.59 L476.27,121.16 L475.67,121.73 L475.08,122.32 L474.50,122.92 L473.93,123.53 L473.38,124.15 L472.84,124.78 L472.32,125.42 L471.81,126.07 L471.31,126.73 L470.83,127.39 L470.36,128.07 L469.91,128.75 L469.48,129.45 L469.06,130.15 L468.65,130.86 L468.26,131.57 L467.89,132.30 L467.54,133.03 L467.20,133.76 L466.88,134.51 L466.57,135.26 L466.28,136.01 L466.01,136.77 L465.76,137.53 L465.52,138.30 L465.31,139.07 L465.11,139.85 L464.92,140.63 L464.76,141.41 L464.61,142.20 L464.48,142.99 L464.37,143.78 L464.28,144.57 L464.21,145.36 L464.15,146.16 L464.12,146.95 L464.10,147.75 L464.10,148.54 L464.12,149.34 L464.16,150.13 L464.21,150.92 L464.28,151.71 L464.38,152.50 L464.49,153.29 L464.62,154.07 L464.76,154.85 L464.93,155.63 L465.11,156.41 L465.31,157.18 L465.53,157.94 L465.77,158.70 L466.02,159.46 L466.29,160.21 L466.58,160.95 L466.89,161.69 L467.21,162.42 L467.55,163.15 L467.91,163.86 L468.29,164.57 L468.68,165.28 L469.08,165.97 L469.50,166.66 L469.94,167.34 L470.40,168.00 L470.87,168.66 L471.35,169.31 L471.85,169.95 L472.36,170.58 L472.89,171.20 L473.44,171.81 L473.99,172.41 L474.56,173.00 L475.15,173.58 L475.74,174.14 L476.35,174.69 L476.97,175.24 L477.61,175.76 L478.25,176.28 L478.91,176.78 L479.58,177.28 L480.26,177.75 L480.95,178.22 L481.65,178.67 L482.36,179.11 L483.08,179.53 L483.81,179.94 L484.55,180.34 L485.30,180.73 L486.05,181.09 L486.82,181.45 L487.59,181.79 L488.37,182.12 L489.15,182.43 L489.94,182.73 L490.74,183.01 L491.55,183.28 L492.35,183.53 L493.17,183.77 L493.99,184.00 L494.81,184.21 L495.64,184.40 L496.47,184.58 L497.30,184.75 L498.14,184.90 L498.98,185.03 L499.82,185.16 L500.66,185.26 L501.51,185.36 L502.35,185.43 L503.20,185.50 L504.05,185.55 L504.89,185.58 L505.74,185.60 L506.59,185.61 L507.43,185.61 L508.27,185.59 L509.12,185.55 L509.96,185.51 L510.79,185.45 L511.63,185.37 L512.46,185.29 L513.29,185.19 L514.11,185.07 L514.93,184.95 L515.75,184.81 L516.56,184.67 L517.37,184.51 L518.17,184.33 L518.97,184.15 L519.76,183.96 L520.55,183.75 L521.33,183.54 L522.10,183.31 L522.87,183.07 L523.63,182.83 L524.38,182.57 L525.12,182.31 L525.86,182.03 L526.59,181.75 L527.31,181.46 L528.02,181.16 L528.73,180.85 L529.43,180.54 L530.11,180.21 L530.79,179.88 L531.46,179.55 L532.12,179.20 L532.77,178.86 L533.42,178.50 L534.05,178.14 L534.67,177.78 L535.28,177.41 L535.89,177.03 L536.48,176.65 L537.06,176.27 L537.64,175.89 L538.20,175.50 L538.75,175.10 L539.29,174.71 L539.83,174.31 L540.35,173.91 L540.86,173.51 L541.36,173.11 L541.85,172.71 L542.33,172.31 L542.80,171.91 L543.26,171.50 L543.71,171.10 L544.14,170.70 L544.57,170.30 L544.99,169.90 L545.40,169.50 L545.80,169.11 L546.18,168.72 L546.56,168.33 L546.93,167.94 L547.29,167.56 L547.64,167.18 L547.98,166.80 L548.31,166.43 L548.63,166.06 L548.94,165.70 L549.25,165.34 L549.54,164.98 L549.83,164.64 L550.10,164.30 L550.37,163.96 L550.63,163.63 L550.89,163.31 L551.13,162.99 L551.37,162.68 L551.60,162.38 L551.83,162.09 L552.05,161.80 L552.26,161.52 L552.46,161.25 L552.66,160.99 L552.85,160.73 L553.04,160.49 L553.22,160.25 L553.40,160.02 L553.57,159.80 L553.74,159.59 L553.90,159.39 L554.06,159.20 L554.21,159.02 L554.36,158.85 L554.51,158.69 L554.66,158.53 L554.80,158.39 L554.94,158.26 L555.08,158.14 L555.21,158.03 L555.35,157.92 L555.48,157.83 L555.62,157.75 L555.75,157.68 L555.88,157.62 L556.01,157.57 L556.14,157.53 L556.27,157.50 L556.41,157.48 L556.54,157.47 L556.68,157.47 L556.81,157.49 L556.95,157.51 L557.09,157.54 L557.24,157.58 L557.38,157.63 L557.53,157.70 L557.69,157.77 L557.84,157.85 L558.00,157.94 L558.17,158.04 L558.34,158.15 L558.51,158.27 L558.69,158.39 L558.87,158.53 L559.06,158.68 L559.26,158.83 L559.46,158.99 L559.66,159.16 L559.88,159.34 L560.10,159.53 L560.32,159.72 L560.56,159.92 L560.80,160.13 L561.05,160.35 L561.31,160.57 L561.57,160.80 L561.84,161.03 L562.12,161.28 L562.41,161.52 L562.71,161.78 L563.02,162.03 L563.33,162.30 L563.65,162.56 L563.99,162.84 L564.33,163.11 L564.68,163.39 L565.04,163.68 L565.42,163.96 L565.80,164.25 L566.19,164.55 L566.59,164.84 L567.00,165.14 L567.42,165.44 L567.85,165.74 L568.29,166.04 L568.74,166.35 L569.20,166.65 L569.67,166.95 L570.15,167.26 L570.65,167.56 L571.15,167.86 L571.66,168.16 L572.18,168.46 L572.72,168.76 L573.26,169.06 L573.81,169.35 L574.38,169.64 L574.95,169.93 L575.53,170.22 L576.12,170.50 L576.73,170.78 L577.34,171.05 L577.96,171.32 L578.59,171.58 L579.23,171.84 L579.88,172.09 L580.54,172.34 L581.21,172.58 L581.89,172.81 L582.57,173.04 L583.26,173.26 L583.97,173.48 L584.67,173.68 L585.39,173.88 L586.12,174.07 L586.85,174.25 L587.59,174.42 L588.34,174.59 L589.09,174.74 L589.85,174.89 L590.62,175.02 L591.39,175.15 L592.17,175.26 L592.95,175.36 L593.74,175.46 L594.53,175.54 L595.33,175.61 L596.14,175.67 L596.94,175.72 L597.75,175.76 L598.57,175.79 L599.39,175.80 L600.21,175.80 L601.03,175.79 L601.86,175.76 L602.68,175.73 L603.51,175.68 L604.34,175.62 L605.17,175.54 L606.00,175.45 L606.84,175.35 L607.67,175.24 L608.50,175.11 L609.33,174.96 L610.16,174.81 L610.99,174.64 L611.81,174.46 L612.64,174.26 L613.46,174.05 L614.27,173.82 L615.09,173.58 L615.90,173.33 L616.71,173.07 L617.51,172.79 L618.31,172.49 L619.10,172.18 L619.89,171.86 L620.67,171.53 L621.44,171.18 L622.21,170.81 L622.97,170.44 L623.73,170.05 L624.47,169.65 L625.21,169.23 L625.94,168.80 L626.66,168.36 L627.38,167.90 L628.08,167.43 L628.77,166.95 L629.46,166.46 L630.13,165.95 L630.79,165.43 L631.44,164.90 L632.08,164.36 L632.71,163.81 L633.33,163.24 L633.93,162.67 L634.52,162.08 L635.10,161.48 L635.67,160.87 L636.22,160.25 L636.76,159.62 L637.28,158.98 L637.79,158.33 L638.29,157.67 L638.77,157.01 L639.24,156.33 L639.69,155.65 L640.12,154.95 L640.54,154.25 L640.95,153.54 L641.34,152.83 L641.71,152.10 L642.06,151.37 L642.40,150.64 L642.72,149.89 L643.03,149.14 L643.32,148.39 L643.59,147.63 L643.84,146.87 L644.08,146.10 L644.29,145.33 L644.49,144.55 L644.68,143.77 L644.84,142.99 L644.99,142.20Z" fill="none" stroke="#EE9153" stroke-width="2.1"/>
<use href="#mkO" x="556.30" y="124.20"/>
<use href="#mkO" x="566.80" y="111.90"/>
<use href="#mkO" x="588.70" y="100.80"/>
<use href="#mkO" x="616.50" y="100.80"/>
<use href="#mkO" x="638.90" y="116.30"/>
<use href="#mkO" x="642.40" y="125.60"/>
<use href="#mkO" x="643.90" y="142.60"/>
<use href="#mkO" x="640.10" y="152.20"/>
<use href="#mkO" x="620.00" y="170.60"/>
<use href="#mkO" x="592.80" y="175.30"/>
<use href="#mkO" x="571.80" y="168.20"/>
<use href="#mkO" x="559.50" y="160.10"/>
<use href="#mkO" x="554.60" y="158.90"/>
<use href="#mkO" x="546.10" y="168.80"/>
<use href="#mkO" x="528.00" y="181.10"/>
<use href="#mkO" x="500.80" y="184.90"/>
<use href="#mkO" x="474.90" y="174.10"/>
<use href="#mkO" x="463.80" y="150.40"/>
<use href="#mkO" x="472.50" y="125.00"/>
<use href="#mkO" x="495.90" y="110.40"/>
<use href="#mkO" x="523.30" y="111.00"/>
<use href="#mkO" x="542.60" y="119.80"/>
<use href="#mkO" x="551.40" y="126.50"/>
<path d="M407.8,23.8 H412.3 V260.7 H407.8" fill="none" stroke="#000" stroke-width="1.8"/>
<line x1="407.8" y1="51.19" x2="412.3" y2="51.19" stroke="#000" stroke-width="1.8"/>
<line x1="407.8" y1="233.21" x2="412.3" y2="233.21" stroke="#000" stroke-width="1.8"/>
<line x1="407.8" y1="126.83" x2="412.3" y2="126.83" stroke="#000" stroke-width="1.8"/>
<line x1="407.8" y1="157.57" x2="412.3" y2="157.57" stroke="#000" stroke-width="1.8"/>
<text x="402" y="28.00" text-anchor="end" class="tk">1</text>
<text x="402" y="264.40" text-anchor="end" class="tk">1</text>
<text x="402" y="55.19" text-anchor="end" class="tk">0.77</text>
<text x="402" y="237.21" text-anchor="end" class="tk">0.77</text>
<text x="402" y="130.83" text-anchor="end" class="tk">0.13</text>
<text x="402" y="161.57" text-anchor="end" class="tk">0.13</text>
<text x="682.3" y="146.3" text-anchor="middle" class="tk">0</text>
<text x="645.6" y="56.2" text-anchor="middle" class="tk">45</text>
<text x="554.5" y="18.6" text-anchor="middle" class="tk">90</text>
<text x="458.4" y="56.6" text-anchor="middle" class="tk">135</text>
<text x="423.2" y="146" text-anchor="middle" class="tk">180</text>
<text x="458.8" y="237.3" text-anchor="middle" class="tk">225</text>
<text x="554.4" y="275" text-anchor="middle" class="tk">270</text>
<text x="649.4" y="237.1" text-anchor="middle" class="tk">315</text>
<text transform="translate(372.3,144.8) rotate(-90)" text-anchor="middle" class="ax">Optical power (Normalized)</text>
<line x1="425.1" y1="264.8" x2="457.7" y2="264.8" stroke="#EE9153" stroke-width="1.8"/>
<circle cx="441.6" cy="264.8" r="2.6" fill="#EE9153"/><circle cx="441.0" cy="264.0" r="1" fill="#fbd9c0"/>
<text x="463" y="268.9" class="lg"><tspan>P</tspan><tspan class="sb" dy="2.9" dx="-0.5">Exp</tspan></text>
</g>
<g id="pc">
<defs>
<linearGradient id="bgV" x1="0" y1="0" x2="0" y2="1">
 <stop offset="0" stop-color="#b4b3b3"/>
 <stop offset="0.4" stop-color="#b7b5b6"/>
 <stop offset="1" stop-color="#c0bdbe"/>
</linearGradient>
<linearGradient id="bgH" x1="0" y1="0" x2="1" y2="0">
 <stop offset="0" stop-color="#000" stop-opacity="0.05"/>
 <stop offset="0.12" stop-color="#000" stop-opacity="0.03"/>
 <stop offset="0.3" stop-color="#000" stop-opacity="0.0"/>
 <stop offset="0.8" stop-color="#000" stop-opacity="0.0"/>
 <stop offset="1" stop-color="#000" stop-opacity="0.03"/>
</linearGradient>
<radialGradient id="pink" cx="0.5" cy="0.5" r="0.5">
 <stop offset="0" stop-color="#cc8486" stop-opacity="0.6"/>
 <stop offset="0.55" stop-color="#cc8c8e" stop-opacity="0.4"/>
 <stop offset="1" stop-color="#cc9a9b" stop-opacity="0"/>
</radialGradient>
<radialGradient id="lite" cx="0.5" cy="0.5" r="0.5">
 <stop offset="0" stop-color="#d2c2c3" stop-opacity="0.75"/>
 <stop offset="0.6" stop-color="#d0c4c5" stop-opacity="0.35"/>
 <stop offset="1" stop-color="#d0c8c8" stop-opacity="0"/>
</radialGradient>
<linearGradient id="boxFront" x1="0" y1="0" x2="1" y2="0">
 <stop offset="0" stop-color="#747474"/>
 <stop offset="0.5" stop-color="#7a7a7a"/>
 <stop offset="0.9" stop-color="#818181"/>
 <stop offset="1" stop-color="#7a7a7a"/>
</linearGradient>
<linearGradient id="boxFrontV" x1="0" y1="0" x2="0" y2="1">
 <stop offset="0" stop-color="#000" stop-opacity="0.06"/>
 <stop offset="0.4" stop-color="#fff" stop-opacity="0.03"/>
 <stop offset="1" stop-color="#000" stop-opacity="0.0"/>
</linearGradient>
<linearGradient id="boxTop" x1="0" y1="0" x2="0" y2="1">
 <stop offset="0" stop-color="#585858"/>
 <stop offset="1" stop-color="#5e5e5e"/>
</linearGradient>
<linearGradient id="redTop" x1="0" y1="0" x2="0" y2="1">
 <stop offset="0" stop-color="#9e3a31"/>
 <stop offset="1" stop-color="#97372e"/>
</linearGradient>
<linearGradient id="redFront" x1="0" y1="0" x2="0" y2="1">
 <stop offset="0" stop-color="#8a2e28"/>
 <stop offset="1" stop-color="#88302a"/>
</linearGradient>
<linearGradient id="pdHouse" x1="0" y1="0" x2="1" y2="0">
 <stop offset="0" stop-color="#3a3838"/>
 <stop offset="0.12" stop-color="#4c4949"/>
 <stop offset="0.5" stop-color="#4a4747"/>
 <stop offset="0.8" stop-color="#3a3838"/>
 <stop offset="1" stop-color="#2a2929"/>
</linearGradient>
<linearGradient id="rim" x1="0" y1="0" x2="0" y2="1">
 <stop offset="0" stop-color="#d6d2d3"/>
 <stop offset="0.55" stop-color="#dcd9d9"/>
 <stop offset="0.7" stop-color="#c8c6c6"/>
 <stop offset="0.8" stop-color="#8a8a8a"/>
 <stop offset="1" stop-color="#9a9a9a"/>
</linearGradient>
<linearGradient id="rimH" gradientUnits="userSpaceOnUse" x1="0" y1="338.5" x2="0" y2="471.5">
 <stop offset="0" stop-color="#dcd6d7"/>
 <stop offset="0.5" stop-color="#d3d1d2"/>
 <stop offset="0.74" stop-color="#c6c5c6"/>
 <stop offset="0.8" stop-color="#7c7c7c"/>
 <stop offset="0.95" stop-color="#8a8a8a"/>
 <stop offset="1" stop-color="#c0c0c0"/>
</linearGradient>
<linearGradient id="rimL" gradientUnits="userSpaceOnUse" x1="0" y1="331.5" x2="0" y2="463.5">
 <stop offset="0" stop-color="#dcd6d7"/>
 <stop offset="0.5" stop-color="#d3d1d2"/>
 <stop offset="0.76" stop-color="#c4c4c8"/>
 <stop offset="0.8" stop-color="#727272"/>
 <stop offset="0.95" stop-color="#8a8a8a"/>
 <stop offset="1" stop-color="#c0c0c0"/>
</linearGradient>
<linearGradient id="rimP" gradientUnits="userSpaceOnUse" x1="0" y1="384.5" x2="0" y2="461">
 <stop offset="0" stop-color="#d6d4d4"/>
 <stop offset="0.7" stop-color="#cfcdce"/>
 <stop offset="0.74" stop-color="#6e6e6e"/>
 <stop offset="0.88" stop-color="#777"/>
 <stop offset="1" stop-color="#d0403a"/>
</linearGradient>
<linearGradient id="notchWall" x1="0" y1="0" x2="1" y2="0">
 <stop offset="0" stop-color="#555"/>
 <stop offset="0.5" stop-color="#444"/>
 <stop offset="1" stop-color="#4a4a4a"/>
</linearGradient>
<linearGradient id="notchRed" x1="0" y1="0" x2="1" y2="0">
 <stop offset="0" stop-color="#e04a44" stop-opacity="0"/>
 <stop offset="0.6" stop-color="#c84440" stop-opacity="0.5"/>
 <stop offset="0.8" stop-color="#e8504a" stop-opacity="1"/>
 <stop offset="1" stop-color="#e8504a" stop-opacity="1"/>
</linearGradient>
<filter id="blur1" x="-50%" y="-50%" width="200%" height="200%"><feGaussianBlur stdDeviation="1"/></filter>
<filter id="blur2" x="-50%" y="-50%" width="200%" height="200%"><feGaussianBlur stdDeviation="2"/></filter>
<filter id="blur4" x="-50%" y="-50%" width="200%" height="200%"><feGaussianBlur stdDeviation="4"/></filter>
<filter id="blur8" x="-50%" y="-50%" width="200%" height="200%"><feGaussianBlur stdDeviation="8"/></filter>
<filter id="blur14" x="-50%" y="-50%" width="200%" height="200%"><feGaussianBlur stdDeviation="14"/></filter>
<clipPath id="cpc"><rect x="1" y="316.8" width="682.6" height="212.8"/></clipPath>
</defs>
<g clip-path="url(#cpc)">
<rect x="1" y="316.8" width="682.6" height="212.8" fill="url(#bgV)"/>
<rect x="1" y="316.8" width="682.6" height="212.8" fill="url(#bgH)"/>
<ellipse cx="440" cy="478" rx="270" ry="75" fill="url(#lite)"/>
<ellipse cx="420" cy="465" rx="200" ry="45" fill="url(#pink)"/>
<ellipse cx="300" cy="468" rx="40" ry="38" fill="url(#pink)" opacity="0.55"/>
<ellipse cx="560" cy="460" rx="40" ry="30" fill="#e08888" opacity="0.25" filter="url(#blur8)"/>
<!-- shadows -->
<path d="M24,512 L288,502 L291,506 L27,517 Z" fill="#777" opacity="0.45" filter="url(#blur2)"/>
<path d="M596,476 L652,472 L664,482 L606,490 Z" fill="#707070" opacity="0.45" filter="url(#blur4)"/>

<!-- LASER BOX -->
<path d="M34,357.6 L278,350 Q281,350 281.5,353 L284.7,399.5 L13.5,409.8 L14,405 Q15,402 18,401.8 L25,400 L33,380 L32,360 Q32,357.7 34,357.6 Z" fill="url(#boxTop)"/>
<!-- left notch -->
<path d="M32,358.5 L66,357.6 L66,364 L32,364.6 Z" fill="#626262"/>
<path d="M32.5,364.3 L66,363.6" stroke="#8e8e8e" stroke-width="1.5"/>
<path d="M32,365 L65.5,364.3 L64,378.5 L33,379 Z" fill="url(#notchWall)"/>
<path d="M33,380 L63,379.5 L57.5,396 L25,400 Z" fill="#5f5f5f"/>
<path d="M33,379.5 L63.5,378.9" stroke="#8c8c8c" stroke-width="1.6"/>
<path d="M32.6,359 L32.8,379" stroke="#6a6a6a" stroke-width="1.2"/>
<path d="M66,364 L63,379.5 L57.5,396" stroke="#6c6c6c" stroke-width="1" fill="none"/>
<path d="M25,401.2 L57.5,396 L57.5,394.3 L246,387 L246,393.3 L284.5,392.8 L284.6,399.3 L13.6,409.7 L14.2,405 Q15,402.3 18,402 Z" fill="#5f5f5f"/>
<path d="M57.5,393.8 L246,386.5" stroke="#474747" stroke-width="1"/>
<path d="M57.5,394.9 L246,387.6" stroke="#686868" stroke-width="0.7"/>
<!-- right notch -->
<path d="M235,358 L256,357.6 Q258.5,358 258.5,362 L258.5,392 L235,392.5 Z" fill="#5b5b5b"/>
<path d="M246.5,358 L280,357.3 L280.5,372 L258.5,372.3 L258.5,362 Q258.5,358 256,358 Z" fill="url(#notchWall)"/>
<path d="M246.3,357.2 L279.6,356.6" stroke="#8e8e8e" stroke-width="1.5"/>
<path d="M270,358 L281,358 L281.5,371.5 L270,371.5 Z" fill="url(#notchRed)"/>
<path d="M246.5,358.2 L249,358.2 L249,361.5 L246.5,361.5Z" fill="#7a2a26" opacity="0.7"/>
<path d="M258.5,372.3 L280.5,372 L283,396 L258.5,396.5 Z" fill="#575757"/>
<path d="M259,377 L261.7,377 L261.7,393 L259,393 Z" fill="#111"/>
<path d="M246,388 L258.5,387.6 L258.5,392.5 L246,393 Z" fill="#3a3a3a"/>
<path d="M246,387.7 L258.5,387.3" stroke="#8a8a8a" stroke-width="1"/>
<!-- front face -->
<path d="M13,410.8 L284.7,400.4 L287,484 L22,494 Z" fill="url(#boxFront)"/>
<path d="M13,410.8 L284.7,400.4 L287,484 L22,494 Z" fill="url(#boxFrontV)"/>
<path d="M13.6,411 L22,494" stroke="#949494" stroke-width="1.5"/>
<path d="M13.6,409.4 L284.4,399" stroke="#a6a6a6" stroke-width="1.9"/>
<path d="M14,411 L284.4,400.6" stroke="#585858" stroke-width="0.9"/>
<path d="M283,400.5 L284.7,400.4 L287,484 L285,484.1Z" fill="#747474"/>
<path d="M22,494.3 L287,484.3" stroke="#3e3e3e" stroke-width="1.1"/>
<path d="M22,495 L287,485 L287,503.5 L25.5,513.5 Z" fill="#717171"/>
<path d="M22.5,496 L287,486" stroke="#7c7c7c" stroke-width="0.8"/>
<path d="M25.5,513.5 L287,503.5" stroke="#5a5a5a" stroke-width="1"/>
<!-- red glow right of box -->


<!-- HWP -->
<g>
 <ellipse cx="368.2" cy="405" rx="7" ry="66.5" fill="#cbc7c8" opacity="0.55"/>
 <path d="M368.2,338.5 A7,66.5 0 0 1 368.2,471.5 L381.2,471.5 A7,66.5 0 0 0 381.2,338.5 Z" fill="url(#rimH)" opacity="0.85"/>
 <path d="M368.2,338.5 A7,66.5 0 0 0 368.2,471.5" fill="none" stroke="#e4e2e2" stroke-width="1.2" opacity="0.6"/>
 <path d="M368.2,338.5 A7,66.5 0 0 1 368.2,471.5" fill="none" stroke="#e8e6e6" stroke-width="0.8" opacity="0.6"/>
</g>
<!-- PM -->
<g>
 <path d="M437.8,349.3 L449,384.5 L448.5,460.5 L436.3,422 Z" fill="#cbc7c8" opacity="0.45"/>
 <path d="M437.8,349.3 L436.3,422" stroke="#e2e0e0" stroke-width="1.4" opacity="0.9"/>
 <path d="M437.8,349.3 L448,349.3 L462.5,384.5 L449,384.5 Z" fill="#d3d0d1"/>
 <path d="M449,384.5 L462.5,384.5 L461.6,459 Q461,461 458,461 L448.5,460.5 Z" fill="url(#rimP)"/>
 <path d="M449,378 L461,378 L462.5,385 L450,385Z" fill="#ff5545"/>
 <path d="M438.5,356 L445,360 L446,376 L439,374Z" fill="#ff6a5a" opacity="0.55" filter="url(#blur2)"/>
 <path d="M436.8,378.9 L443.6,381.2 L443.6,425.5 L436.8,419.6Z" fill="#5c1f1a"/>
 <path d="M443.6,381.2 L447,393.6 L447,425.2 L443.6,426.4Z" fill="#b3332a"/>
</g>
<!-- LP -->
<g>
 <ellipse cx="506.3" cy="397.5" rx="14" ry="66" fill="#cbc7c8" opacity="0.55"/>
 <path d="M506.3,331.5 A14,66 0 0 1 506.3,463.5 L519.3,463.5 A14,66 0 0 0 519.3,331.5 Z" fill="url(#rimL)" opacity="0.85"/>
 <path d="M506.3,331.5 A14,66 0 0 0 506.3,463.5" fill="none" stroke="#e4e2e2" stroke-width="1.2" opacity="0.6"/>
 <path d="M506.3,331.5 A14,66 0 0 1 506.3,463.5" fill="none" stroke="#e8e6e6" stroke-width="0.8" opacity="0.6"/>
</g>
<!-- glass glows -->
<path d="M521,372 L533,371.5 L533.5,394 L521,394.5Z" fill="#ff6a5a" opacity="0.45" filter="url(#blur2)"/>
<path d="M370,339 L381,339 L384,352 L372,352Z" fill="#e8b0b0" opacity="0.35" filter="url(#blur1)"/>
<path d="M507,332 L520,332 L525,345 L510,345Z" fill="#e8b0b0" opacity="0.3" filter="url(#blur1)"/>
<!-- BEAM -->
<path d="M285,403.2 L568,393.9 L568,404.5 L285,414.9 Z" fill="#ff705c"/>
<path d="M285,403.7 L568,394.4 M285,414.4 L568,404" stroke="#ff5e4c" stroke-width="1"/>
<path d="M375,398 L388.3,397.7 L388.3,414.7 L375,415Z" fill="#ff6e5a"/>
<path d="M449,395 L462,394.6 L462,413 L449,413.4Z" fill="#ff6e5a"/>
<path d="M520,394.8 L533,394.5 L533,411.3 L520,411.6Z" fill="#ff6e5a"/>

<!-- PD -->
<path d="M587,323 L627.2,322.3 Q629,322.5 631,325 L661,364 Q662,366.5 659.5,366.6 L618,369.5 Z" fill="url(#redTop)"/>
<path d="M618,369.5 L661.7,366.5 L651.2,474 L607.5,478 Z" fill="url(#redFront)"/>
<path d="M609,323 L641,368 L632.5,475.6 M616,323 L647.5,367.8 L639.5,475 M622.5,322.8 L654,367.3 L645.5,474.5" stroke="#74261f" stroke-width="0.65" fill="none"/>
<!-- black frame -->
<path d="M579,323.8 L588,323 L618.5,369.5 L608,478.5 L596,477 L592,474 L602,366 Z" fill="#1e1e1e"/>
<path d="M587.5,323.3 L618,369" stroke="#4a4a4a" stroke-width="1.2"/>
<path d="M600,402.2 L605.6,402 L604.6,447.8 L598.9,448 Z" fill="#353535"/>
<path d="M605.6,402 L604.6,447.8" stroke="#0c0c0c" stroke-width="1"/>
<!-- housing front -->
<path d="M575.8,323.8 L580,324 L603,365 L596,470 L592,475 L588,474 L568,437 L564.5,425 L564.5,400 L568.2,371.7 L571.7,341.3 Z" fill="url(#pdHouse)"/>
<path d="M580.5,324.5 L602.5,363" stroke="#5e5e5e" stroke-width="1.2"/>
<!-- flange + tube -->
<path d="M578,368 L591,368 Q595,368 595,373 L595,424 Q595,429 590,429 L578,429Z" fill="#262626"/>
<ellipse cx="577.5" cy="398" rx="11" ry="27" fill="#1a1a1a"/>
<ellipse cx="571.5" cy="397.8" rx="6.3" ry="22.8" fill="#1a0808"/>
<path d="M574,378 Q579,398 574,418 Q577,398 574,378Z" fill="#7a1612" opacity="0.8"/>
<path d="M565.5,392.7 L578.5,392.3 L578.5,402.9 L565.5,403.3Z" fill="#ff6a55"/>
<ellipse cx="597" cy="395" rx="5" ry="13" fill="#ff2a1a" opacity="0.8" filter="url(#blur4)"/>
<ellipse cx="585" cy="472" rx="25" ry="12" fill="#e07070" opacity="0.2" filter="url(#blur8)"/>
</g>
<!-- labels -->
<text x="150.3" y="522.9" text-anchor="middle" class="cl">Laser</text>
<text x="375.6" y="489" text-anchor="middle" class="cl">HWP</text>
<text x="454.3" y="479.1" text-anchor="middle" class="cl">PM</text>
<text x="516.6" y="480.9" text-anchor="middle" class="cl">LP</text>
<text x="603.3" y="494.8" text-anchor="middle" class="cl">PD</text>
</g>

</svg>
</body></html>
